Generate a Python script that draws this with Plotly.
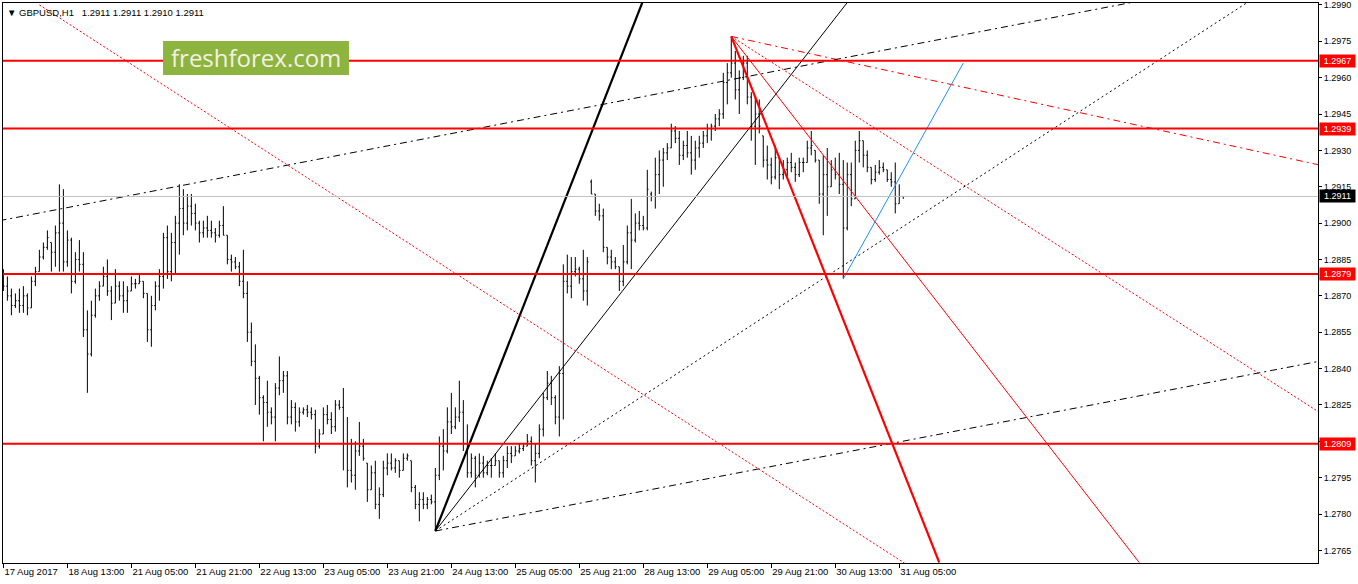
import plotly.graph_objects as go

### GBPUSD H1 bars, index 0 = 17 Aug 2017 21:00 ###
opens = [
    1.2880, 1.2874, 1.2870, 1.2866, 1.2868, 1.2866, 1.2870, 1.2865, 1.2876, 1.2880,
    1.2886, 1.2890, 1.2892, 1.2888, 1.2896, 1.2900, 1.2884, 1.2893, 1.2876, 1.2885,
    1.2883, 1.2856, 1.2846, 1.2862, 1.2870, 1.2874, 1.2878, 1.2872, 1.2867, 1.2874,
    1.2870, 1.2868, 1.2872, 1.2875, 1.2875, 1.2876, 1.2871, 1.2856, 1.2866, 1.2874,
    1.2878, 1.2894, 1.2880, 1.2892, 1.2900, 1.2906, 1.2900, 1.2907, 1.2904, 1.2900,
    1.2896, 1.2898, 1.2897, 1.2896, 1.2895, 1.2899, 1.2895, 1.2885, 1.2884, 1.2882,
    1.2876, 1.2871, 1.2855, 1.2843, 1.2836, 1.2828, 1.2826, 1.2822, 1.2820, 1.2832,
    1.2835, 1.2837, 1.2820, 1.2824, 1.2818, 1.2822, 1.2823, 1.2822, 1.2821, 1.2808,
    1.2813, 1.2821, 1.2819, 1.2816, 1.2825, 1.2824, 1.2809, 1.2798, 1.2796, 1.2806,
    1.2808, 1.2801, 1.2790, 1.2797, 1.2784, 1.2788, 1.2799, 1.2801, 1.2799, 1.2802,
    1.2798, 1.2803, 1.2802, 1.2791, 1.2784, 1.2786, 1.2784, 1.2786, 1.2785, 1.2796,
    1.2808, 1.2806, 1.2818, 1.2816, 1.2820, 1.2822, 1.2809, 1.2797, 1.2803, 1.2796,
    1.2801, 1.2797, 1.2800, 1.2800, 1.2802, 1.2797, 1.2802, 1.2805, 1.2804, 1.2806,
    1.2807, 1.2808, 1.2810, 1.2802, 1.2805, 1.2815, 1.2828, 1.2834, 1.2828, 1.2820,
    1.2838, 1.2876, 1.2874, 1.2880, 1.2881, 1.2877, 1.2872, 1.2917, 1.2912, 1.2905,
    1.2903, 1.2890, 1.2886, 1.2884, 1.2882, 1.2876, 1.2884, 1.2896, 1.2893, 1.2900,
    1.2899, 1.2898, 1.2912, 1.2911, 1.2920, 1.2926, 1.2929, 1.2931, 1.2938, 1.2935,
    1.2928, 1.2932, 1.2929, 1.2926, 1.2931, 1.2933, 1.2936, 1.2939, 1.2940, 1.2943,
    1.2945, 1.2958, 1.2962, 1.2966, 1.2955, 1.2960, 1.2966, 1.2952, 1.2940, 1.2945,
    1.2936, 1.2926, 1.2924, 1.2919, 1.2927, 1.2920, 1.2922, 1.2925, 1.2923, 1.2920,
    1.2925, 1.2925, 1.2931, 1.2930, 1.2926, 1.2912, 1.2920, 1.2915, 1.2922, 1.2920,
    1.2916, 1.2898, 1.2920, 1.2910, 1.2930, 1.2934, 1.2928, 1.2923, 1.2918, 1.2921,
    1.2923, 1.2922, 1.2918, 1.2917, 1.2908, 1.2911,
]
highs = [
    1.2881, 1.2878, 1.2873, 1.2871, 1.2873, 1.2874, 1.2871, 1.2878, 1.2882, 1.2889,
    1.2892, 1.2897, 1.2892, 1.2899, 1.2916, 1.2914, 1.2897, 1.2894, 1.2888, 1.2893,
    1.2888, 1.2864, 1.2868, 1.2873, 1.2876, 1.2882, 1.2885, 1.2874, 1.2881, 1.2876,
    1.2876, 1.2874, 1.2878, 1.2877, 1.2879, 1.2876, 1.2871, 1.2870, 1.2876, 1.2881,
    1.2896, 1.2899, 1.2896, 1.2903, 1.2916, 1.2914, 1.2912, 1.2912, 1.2908, 1.2901,
    1.2901, 1.2903, 1.2901, 1.2898, 1.2901, 1.2907, 1.2895, 1.2887, 1.2886, 1.2884,
    1.2889, 1.2876, 1.2859, 1.2850, 1.2837, 1.2829, 1.2835, 1.2824, 1.2834, 1.2845,
    1.2839, 1.2839, 1.2827, 1.2826, 1.2824, 1.2824, 1.2825, 1.2824, 1.2823, 1.2815,
    1.2824, 1.2825, 1.2822, 1.2827, 1.2827, 1.2832, 1.2820, 1.2811, 1.2810, 1.2818,
    1.2811, 1.2801, 1.2800, 1.2802, 1.2791, 1.2802, 1.2805, 1.2805, 1.2803, 1.2802,
    1.2805, 1.2805, 1.2802, 1.2792, 1.2789, 1.2789, 1.2787, 1.2788, 1.2799, 1.2812,
    1.2815, 1.2824, 1.2830, 1.2824, 1.2835, 1.2827, 1.2817, 1.2805, 1.2804, 1.2805,
    1.2804, 1.2802, 1.2803, 1.2805, 1.2802, 1.2804, 1.2808, 1.2808, 1.2808, 1.2809,
    1.2809, 1.2813, 1.2812, 1.2809, 1.2817, 1.2830, 1.2839, 1.2837, 1.2829, 1.2841,
    1.2883, 1.2887, 1.2886, 1.2886, 1.2882, 1.2889, 1.2886, 1.2918, 1.2912, 1.2908,
    1.2906, 1.2890, 1.2889, 1.2886, 1.2882, 1.2891, 1.2899, 1.2910, 1.2904, 1.2905,
    1.2903, 1.2922, 1.2913, 1.2927, 1.2930, 1.2931, 1.2933, 1.2941, 1.2940, 1.2938,
    1.2934, 1.2938, 1.2936, 1.2934, 1.2936, 1.2938, 1.2941, 1.2941, 1.2945, 1.2947,
    1.2962, 1.2966, 1.2977, 1.2971, 1.2963, 1.2969, 1.2969, 1.2954, 1.2952, 1.2951,
    1.2936, 1.2932, 1.2927, 1.2932, 1.2927, 1.2926, 1.2927, 1.2929, 1.2925, 1.2927,
    1.2927, 1.2934, 1.2938, 1.2930, 1.2926, 1.2928, 1.2931, 1.2926, 1.2927, 1.2929,
    1.2926, 1.2925, 1.2925, 1.2934, 1.2938, 1.2934, 1.2930, 1.2923, 1.2924, 1.2926,
    1.2925, 1.2922, 1.2921, 1.2925, 1.2916, 1.2911,
]
lows = [
    1.2872, 1.2868, 1.2862, 1.2865, 1.2863, 1.2863, 1.2862, 1.2865, 1.2874, 1.2880,
    1.2885, 1.2889, 1.2880, 1.2882, 1.2880, 1.2880, 1.2882, 1.2871, 1.2875, 1.2880,
    1.2853, 1.2830, 1.2845, 1.2861, 1.2868, 1.2874, 1.2870, 1.2860, 1.2867, 1.2868,
    1.2863, 1.2863, 1.2872, 1.2873, 1.2875, 1.2869, 1.2851, 1.2849, 1.2864, 1.2868,
    1.2873, 1.2877, 1.2876, 1.2879, 1.2887, 1.2895, 1.2897, 1.2899, 1.2897, 1.2892,
    1.2894, 1.2894, 1.2894, 1.2892, 1.2894, 1.2895, 1.2883, 1.2880, 1.2881, 1.2874,
    1.2869, 1.2851, 1.2841, 1.2825, 1.2821, 1.2810, 1.2816, 1.2817, 1.2810, 1.2829,
    1.2830, 1.2817, 1.2817, 1.2814, 1.2816, 1.2821, 1.2820, 1.2819, 1.2805, 1.2807,
    1.2813, 1.2817, 1.2813, 1.2814, 1.2823, 1.2798, 1.2791, 1.2793, 1.2790, 1.2804,
    1.2802, 1.2785, 1.2790, 1.2782, 1.2778, 1.2787, 1.2796, 1.2798, 1.2797, 1.2795,
    1.2798, 1.2802, 1.2789, 1.2782, 1.2777, 1.2782, 1.2782, 1.2784, 1.2773, 1.2794,
    1.2798, 1.2805, 1.2813, 1.2815, 1.2818, 1.2806, 1.2795, 1.2795, 1.2791, 1.2795,
    1.2795, 1.2796, 1.2795, 1.2800, 1.2795, 1.2795, 1.2799, 1.2801, 1.2804, 1.2805,
    1.2806, 1.2808, 1.2800, 1.2793, 1.2803, 1.2812, 1.2827, 1.2825, 1.2817, 1.2812,
    1.2819, 1.2871, 1.2869, 1.2878, 1.2875, 1.2868, 1.2866, 1.2912, 1.2903, 1.2901,
    1.2888, 1.2883, 1.2881, 1.2881, 1.2872, 1.2874, 1.2883, 1.2881, 1.2892, 1.2897,
    1.2897, 1.2897, 1.2909, 1.2906, 1.2912, 1.2915, 1.2926, 1.2931, 1.2933, 1.2924,
    1.2926, 1.2927, 1.2920, 1.2922, 1.2927, 1.2931, 1.2933, 1.2934, 1.2938, 1.2940,
    1.2943, 1.2949, 1.2960, 1.2951, 1.2945, 1.2959, 1.2949, 1.2934, 1.2924, 1.2937,
    1.2923, 1.2918, 1.2916, 1.2918, 1.2914, 1.2918, 1.2919, 1.2921, 1.2917, 1.2919,
    1.2921, 1.2925, 1.2928, 1.2925, 1.2908, 1.2895, 1.2903, 1.2915, 1.2918, 1.2912,
    1.2877, 1.2897, 1.2907, 1.2910, 1.2925, 1.2923, 1.2921, 1.2916, 1.2917, 1.2920,
    1.2921, 1.2917, 1.2915, 1.2904, 1.2908, 1.2910,
]
closes = [
    1.2874, 1.2870, 1.2866, 1.2868, 1.2866, 1.2870, 1.2865, 1.2876, 1.2880, 1.2886,
    1.2890, 1.2894, 1.2888, 1.2896, 1.2900, 1.2884, 1.2893, 1.2876, 1.2885, 1.2883,
    1.2856, 1.2846, 1.2862, 1.2870, 1.2874, 1.2878, 1.2872, 1.2867, 1.2874, 1.2870,
    1.2868, 1.2872, 1.2875, 1.2875, 1.2876, 1.2871, 1.2856, 1.2866, 1.2874, 1.2878,
    1.2894, 1.2880, 1.2892, 1.2900, 1.2906, 1.2900, 1.2907, 1.2904, 1.2900, 1.2896,
    1.2898, 1.2897, 1.2896, 1.2895, 1.2899, 1.2895, 1.2885, 1.2884, 1.2882, 1.2876,
    1.2871, 1.2855, 1.2843, 1.2836, 1.2828, 1.2826, 1.2822, 1.2820, 1.2832, 1.2835,
    1.2837, 1.2820, 1.2824, 1.2818, 1.2822, 1.2823, 1.2822, 1.2821, 1.2808, 1.2813,
    1.2821, 1.2819, 1.2816, 1.2825, 1.2824, 1.2809, 1.2798, 1.2796, 1.2806, 1.2808,
    1.2803, 1.2790, 1.2797, 1.2784, 1.2788, 1.2799, 1.2801, 1.2799, 1.2802, 1.2798,
    1.2803, 1.2804, 1.2791, 1.2784, 1.2786, 1.2784, 1.2786, 1.2785, 1.2796, 1.2808,
    1.2806, 1.2818, 1.2816, 1.2820, 1.2822, 1.2809, 1.2797, 1.2803, 1.2796, 1.2801,
    1.2797, 1.2800, 1.2800, 1.2802, 1.2797, 1.2802, 1.2805, 1.2804, 1.2806, 1.2807,
    1.2808, 1.2810, 1.2802, 1.2805, 1.2815, 1.2828, 1.2834, 1.2828, 1.2820, 1.2838,
    1.2876, 1.2874, 1.2880, 1.2881, 1.2877, 1.2872, 1.2884, 1.2912, 1.2905, 1.2903,
    1.2890, 1.2886, 1.2884, 1.2882, 1.2876, 1.2884, 1.2896, 1.2893, 1.2900, 1.2899,
    1.2898, 1.2914, 1.2911, 1.2920, 1.2926, 1.2929, 1.2931, 1.2938, 1.2935, 1.2928,
    1.2932, 1.2929, 1.2926, 1.2931, 1.2933, 1.2936, 1.2939, 1.2940, 1.2943, 1.2945,
    1.2958, 1.2962, 1.2966, 1.2955, 1.2960, 1.2966, 1.2952, 1.2940, 1.2945, 1.2940,
    1.2926, 1.2924, 1.2919, 1.2927, 1.2920, 1.2922, 1.2925, 1.2923, 1.2920, 1.2925,
    1.2925, 1.2931, 1.2932, 1.2926, 1.2912, 1.2920, 1.2915, 1.2922, 1.2920, 1.2916,
    1.2898, 1.2920, 1.2910, 1.2930, 1.2934, 1.2928, 1.2923, 1.2918, 1.2921, 1.2923,
    1.2922, 1.2918, 1.2917, 1.2908, 1.2911, 1.2911,
]
bars = list(range(len(closes)))

### axis labels ###
time_tick_bars = [0, 16, 32, 48, 64, 80, 96, 112, 128, 144, 160, 176, 192, 208, 224]
time_labels = ["17 Aug 2017", "18 Aug 13:00", "21 Aug 05:00", "21 Aug 21:00",
               "22 Aug 13:00", "23 Aug 05:00", "23 Aug 21:00", "24 Aug 13:00",
               "25 Aug 05:00", "25 Aug 21:00", "28 Aug 13:00", "29 Aug 05:00",
               "29 Aug 21:00", "30 Aug 13:00", "31 Aug 05:00"]
price_ticks = [1.2765, 1.2780, 1.2795, 1.2810, 1.2825, 1.2840, 1.2855, 1.2870,
               1.2885, 1.2900, 1.2915, 1.2930, 1.2945, 1.2960, 1.2975, 1.2990]

### levels and drawn objects ###
levels = [1.2967, 1.2939, 1.2879, 1.2809]
bid = 1.2911
low_anchor = (108, 1.2773)
peak_anchor = (182, 1.2977)
black_fan_ends = [(160, 1.2992), (211, 1.2991), (311, 1.2991), (329, 1.2843)]
red_fan_ends = [(234, 1.2760), (284, 1.2760), (329, 1.2822), (329, 1.2924)]
channel_upper = [(-1, 1.2901), (282, 1.2991)]
blue_line = [(210, 1.2877), (240, 1.2966)]
red_diag = [(9, 1.2990), (226, 1.2759)]

FONT = "Liberation Sans, Arial, sans-serif"
fan_styles = [dict(width=2.2, dash="solid"), dict(width=1, dash="solid"),
              dict(width=1, dash="2px,3px"), dict(width=1, dash="7px,4px,2px,4px")]
red_styles = [dict(width=2.2, dash="solid"), dict(width=1, dash="solid"),
              dict(width=1, dash="2px,2px"), dict(width=1, dash="7px,4px,2px,4px")]

fig = go.Figure()
fig.add_trace(go.Ohlc(x=bars, open=opens, high=highs, low=lows, close=closes,
                      increasing=dict(line=dict(color="black", width=1)),
                      decreasing=dict(line=dict(color="black", width=1)),
                      tickwidth=0.3, hoverinfo="skip", showlegend=False))

def add_line(p0, p1, color, width, dash):
    fig.add_trace(go.Scatter(x=[p0[0], p1[0]], y=[p0[1], p1[1]], mode="lines",
                             line=dict(color=color, width=width, dash=dash),
                             hoverinfo="skip", showlegend=False))

for end, st in zip(black_fan_ends, fan_styles):
    add_line(low_anchor, end, "black", **st)
for end, st in zip(red_fan_ends, red_styles):
    add_line(peak_anchor, end, "#FF0000", **st)
add_line(channel_upper[0], channel_upper[1], "black", 1, "7px,4px,2px,4px")
add_line(blue_line[0], blue_line[1], "#1E90FF", 1, "solid")
add_line(red_diag[0], red_diag[1], "#FF0000", 1, "2px,2px")

fig.add_hline(y=bid, line_color="#C0C0C0", line_width=1)
for lvl in levels:
    fig.add_hline(y=lvl, line_color="#FF0000", line_width=2)

# price tags on the right scale
for lvl, bg in [(l, "#FF0000") for l in levels] + [(bid, "black")]:
    fig.add_annotation(xref="paper", x=1, xanchor="left", xshift=1, yref="y", y=lvl,
                       text=f"{lvl:.4f}", showarrow=False, bgcolor=bg,
                       font=dict(family=FONT, size=9, color="white"), borderpad=1, width=33)

# header
fig.add_annotation(xref="paper", yref="paper", x=0, y=1, xanchor="left", yanchor="top",
                   xshift=2, yshift=-2, showarrow=False,
                   text="▼ GBPUSD,H1\u00a0\u00a0 1.2911 1.2911 1.2910 1.2911",
                   font=dict(family=FONT, size=9.5, color="black"))

# freshforex watermark
fig.add_shape(type="rect", xref="paper", yref="paper", x0=0.1217, x1=0.2631,
              y0=0.8714, y1=0.9321, fillcolor="#8DB43E", line_width=0, layer="above")
fig.add_annotation(xref="paper", yref="paper", x=0.1924, y=0.9018, xanchor="center",
                   yanchor="middle", showarrow=False, text="freshforex.com",
                   font=dict(family="Open Sans", size=24, color="#F3F1E4"))

fig.update_layout(
    width=1358, height=584,
    margin=dict(l=3, r=40, t=3, b=21),
    paper_bgcolor="white", plot_bgcolor="white",
    showlegend=False,
    font=dict(family=FONT, size=9.5, color="black"),
    xaxis=dict(range=[-0.1, 328.7], tickvals=time_tick_bars, ticktext=time_labels,
               ticks="outside", ticklen=4, tickcolor="black", showgrid=False, zeroline=False,
               showline=True, linecolor="black", linewidth=1, mirror=True, tickangle=0,
               automargin=False, ticklabelposition="outside right",
               rangeslider=dict(visible=False), tickfont=dict(family=FONT, size=9.5)),
    yaxis=dict(range=[1.27598, 1.29908], side="right", tickvals=price_ticks,
               ticktext=[f"{v:.4f}" for v in price_ticks], ticks="outside", ticklen=3,
               tickcolor="black", showgrid=False, zeroline=False, showline=True,
               linecolor="black", linewidth=1, mirror=True, automargin=False,
               tickfont=dict(family=FONT, size=9)),
)

# page body has a default 8px margin; drop it so the chart sits at the window corner
fig.write_html("out.html", config={"displayModeBar": False},
               post_script="document.body.style.margin='0';")
